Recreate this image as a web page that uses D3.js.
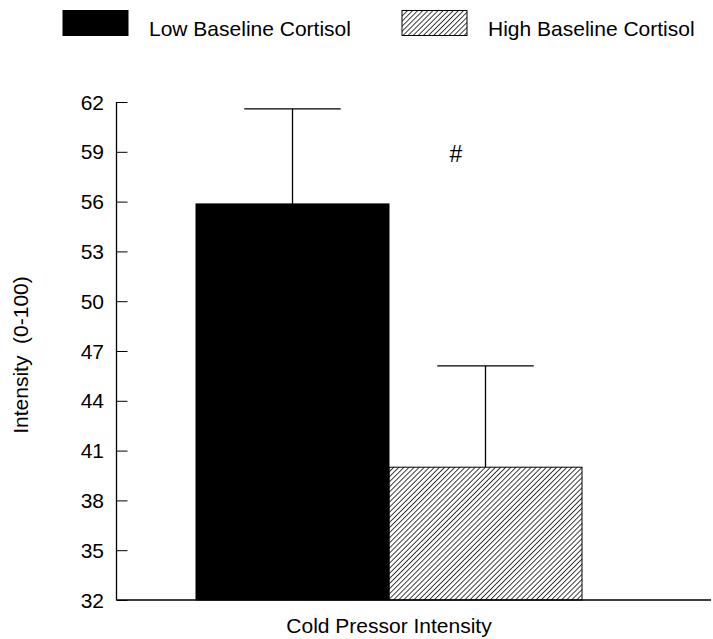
<!DOCTYPE html>
<html>
<head>
<meta charset="utf-8">
<script src="https://cdn.jsdelivr.net/npm/d3@7"></script>
<style>
  html, body { margin: 0; padding: 0; background: #fff; }
  svg { display: block; font-family: "Liberation Sans", Arial, Helvetica, sans-serif; }
  text { white-space: pre; }
</style>
</head>
<body>
<svg id="chart" width="713" height="639"></svg>
<script>
// Data
const groups = ["Low Baseline Cortisol", "High Baseline Cortisol"];
const means = [55.86, 40.0];
const errors = [5.72, 6.1];
const yTicks = [32, 35, 38, 41, 44, 47, 50, 53, 56, 59, 62];
const category = "Cold Pressor Intensity";
const yLabel = "Intensity  (0-100)";
const significanceMark = "#";

const svg = d3.select("#chart");
const fontSize = 21;

// Hatch pattern for the second group
const defs = svg.append("defs");
defs.append("pattern")
  .attr("id", "hatch")
  .attr("patternUnits", "userSpaceOnUse")
  .attr("width", 3.6)
  .attr("height", 3.6)
  .attr("patternTransform", "rotate(45)")
  .append("line")
  .attr("x1", 0).attr("y1", 0)
  .attr("x2", 0).attr("y2", 3.6)
  .attr("stroke", "#000")
  .attr("stroke-width", 1.5);

const fills = ["#000", "url(#hatch)"];

// Scales
const y = d3.scaleLinear().domain([32, 62]).range([600, 102]);
const x = d3.scaleBand().domain(groups).range([196, 582]).padding(0);

const axisX = 116.5;
const axisRight = 711;

// Bars
svg.append("g").selectAll("rect")
  .data(groups)
  .join("rect")
  .attr("x", d => x(d))
  .attr("y", (d, i) => y(means[i]))
  .attr("width", x.bandwidth())
  .attr("height", (d, i) => y(32) - y(means[i]))
  .attr("fill", (d, i) => fills[i])
  .attr("stroke", "#000")
  .attr("stroke-width", 1);

// Error bars (upper only)
const eb = svg.append("g").attr("stroke", "#000").attr("stroke-width", 1.3);
groups.forEach((g, i) => {
  const cx = x(g) + x.bandwidth() / 2;
  const capHalf = x.bandwidth() / 4;
  eb.append("line")
    .attr("x1", cx).attr("x2", cx)
    .attr("y1", y(means[i])).attr("y2", y(means[i] + errors[i]));
  eb.append("line")
    .attr("x1", cx - capHalf).attr("x2", cx + capHalf)
    .attr("y1", y(means[i] + errors[i])).attr("y2", y(means[i] + errors[i]));
});

// Y axis with inward ticks
const yAxis = d3.axisRight(y).tickValues(yTicks).tickSize(11).tickFormat("");
const yg = svg.append("g")
  .attr("transform", `translate(${axisX},0)`)
  .call(yAxis);
yg.select(".domain").remove();
yg.selectAll(".tick line").attr("stroke", "#000").attr("stroke-width", 1);

svg.append("line")
  .attr("x1", axisX).attr("x2", axisX)
  .attr("y1", y(62)).attr("y2", y(32))
  .attr("stroke", "#000").attr("stroke-width", 1.3);

// Tick labels
svg.append("g").selectAll("text")
  .data(yTicks)
  .join("text")
  .attr("x", 104)
  .attr("y", d => y(d))
  .attr("dy", "0.36em")
  .attr("text-anchor", "end")
  .attr("font-size", fontSize)
  .attr("fill", "#000")
  .text(d => d);

// X baseline
svg.append("line")
  .attr("x1", axisX).attr("x2", axisRight)
  .attr("y1", y(32)).attr("y2", y(32))
  .attr("stroke", "#000").attr("stroke-width", 1.3);

// Axis titles
svg.append("text")
  .attr("x", 389)
  .attr("y", 633)
  .attr("text-anchor", "middle")
  .attr("font-size", fontSize)
  .text(category);

svg.append("text")
  .attr("transform", `translate(28,355) rotate(-90)`)
  .attr("text-anchor", "middle")
  .attr("font-size", fontSize)
  .text(yLabel);

// Significance marker
svg.append("text")
  .attr("x", 456)
  .attr("y", 162)
  .attr("text-anchor", "middle")
  .attr("font-size", 23)
  .text(significanceMark);

// Legend
const legendPos = [{ rx: 63, tx: 149 }, { rx: 402, tx: 488 }];
const legend = svg.append("g");
groups.forEach((g, i) => {
  legend.append("rect")
    .attr("x", legendPos[i].rx)
    .attr("y", 10.5)
    .attr("width", 65)
    .attr("height", 25)
    .attr("fill", fills[i])
    .attr("stroke", "#000")
    .attr("stroke-width", 1);
  legend.append("text")
    .attr("x", legendPos[i].tx)
    .attr("y", 36)
    .attr("font-size", fontSize)
    .text(g);
});
</script>
</body>
</html>
